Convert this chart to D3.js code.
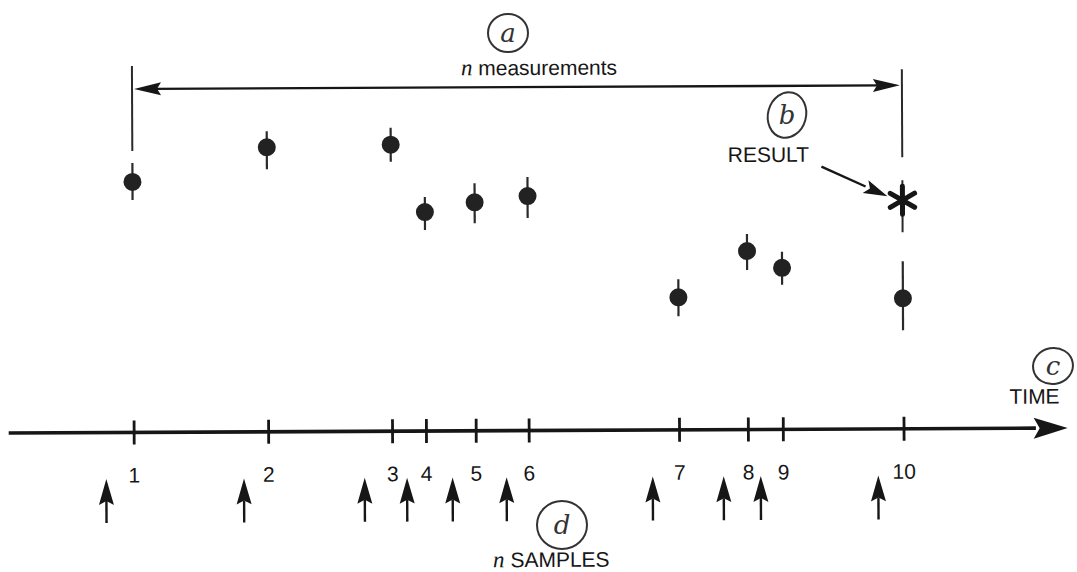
<!DOCTYPE html>
<html>
<head>
<meta charset="utf-8">
<script src="https://cdn.jsdelivr.net/npm/d3@7"></script>
<style>
  html, body { margin: 0; padding: 0; background: #ffffff; }
  svg { display: block; }
</style>
</head>
<body>
<svg id="chart" width="1077" height="572"></svg>
<script>
// Measurement instants along the time axis and their labels
const measureLabels = ["1", "2", "3", "4", "5", "6", "7", "8", "9", "10"];
const measureTimes  = [11.8, 24.5, 36.2, 39.4, 44.1, 49.1, 63.3, 69.8, 73.1, 84.5];
// Measured values with the upper / lower extent of each error bar
const measureValues = [22.0, 25.4, 25.6, 18.85, 19.8, 20.4, 10.2, 14.8, 13.1, 10.0];
const spreadUp      = [1.9, 1.6, 1.7, 1.5, 1.9, 1.9, 1.8, 1.7, 1.6, 3.7];
const spreadDown    = [1.8, 2.2, 1.7, 1.8, 2.1, 2.2, 1.9, 1.9, 1.7, 3.2];
// Sampling instants (arrows under the axis)
const sampleTimes   = [9.2, 22.2, 33.6, 37.6, 41.9, 47.0, 60.8, 67.5, 71.0, 82.1];
// Result produced after the last measurement
const resultValue = 19.8, resultUp = 2.0, resultDown = 3.2;

const ink = "#161616";
const pen = "#2a2a2a";
const sans = "'Liberation Sans', Arial, Helvetica, sans-serif";
const serif = "'Liberation Serif', 'Times New Roman', serif";
const fs = "21px";

const svg = d3.select("#chart");

const x = d3.scaleLinear().domain([0, 100]).range([8, 1067]);
const y = d3.scaleLinear().domain([0, 30]).range([400, 100]);
const axisY = 430.5;

// whole sheet sits very slightly askew
const g = svg.append("g").attr("transform", "rotate(-0.27, 540, 286)");

// ---- time axis with crossing ticks ----
g.append("line")
  .attr("x1", x(0)).attr("x2", x(97))
  .attr("y1", axisY).attr("y2", axisY)
  .attr("stroke", ink).attr("stroke-width", 3.6);
g.append("path")
  .attr("d", `M${x(100)},${axisY} L${x(100) - 34},${axisY - 10.5} L${x(100) - 28},${axisY} L${x(100) - 34},${axisY + 10.5} Z`)
  .attr("fill", ink);

const axis = d3.axisBottom(x)
  .tickValues(measureTimes)
  .tickFormat((d, i) => measureLabels[i])
  .tickSize(12)
  .tickPadding(0);
const axisG = g.append("g").attr("transform", `translate(0,${axisY})`).call(axis);
axisG.select(".domain").remove();
axisG.selectAll(".tick line")
  .attr("y1", -12).attr("y2", 12)
  .attr("stroke", ink).attr("stroke-width", 2.8);
axisG.selectAll(".tick text")
  .attr("y", 50).attr("dy", null)
  .attr("fill", ink)
  .style("font-family", sans).style("font-size", fs);

g.append("text")
  .attr("x", 1034).attr("y", 406)
  .attr("text-anchor", "middle")
  .attr("fill", ink)
  .style("font-family", sans).style("font-size", fs)
  .text("TIME");

// ---- measurements: dots with error bars ----
const meas = measureTimes.map((t, i) => ({ t, v: measureValues[i], up: spreadUp[i], dn: spreadDown[i] }));
g.selectAll("line.err").data(meas).join("line")
  .attr("class", "err")
  .attr("x1", d => x(d.t)).attr("x2", d => x(d.t))
  .attr("y1", d => y(d.v + d.up)).attr("y2", d => y(d.v - d.dn))
  .attr("stroke", pen).attr("stroke-width", 2.2);
g.selectAll("circle.pt").data(meas).join("circle")
  .attr("class", "pt")
  .attr("cx", d => x(d.t)).attr("cy", d => y(d.v))
  .attr("r", 9)
  .attr("fill", "#222222");

// ---- result asterisk ----
const tLast = measureTimes[measureTimes.length - 1];
g.append("line")
  .attr("x1", x(tLast)).attr("x2", x(tLast))
  .attr("y1", y(resultValue + resultUp)).attr("y2", y(resultValue - resultDown))
  .attr("stroke", pen).attr("stroke-width", 2);
g.append("path")
  .attr("transform", `translate(${x(tLast)},${y(resultValue)})`)
  .attr("d", d3.symbol(d3.symbolAsterisk, 560)())
  .attr("fill", "none").attr("stroke", ink)
  .attr("stroke-width", 5).attr("stroke-linecap", "round");

// label and pointer
g.append("text")
  .attr("x", 769).attr("y", 163)
  .attr("text-anchor", "middle")
  .attr("fill", ink)
  .style("font-family", sans).style("font-size", fs)
  .text("RESULT");
{
  const x0 = 822, y0 = 168, x1 = x(tLast) - 15, y1 = y(resultValue) - 4;
  const ang = Math.atan2(y1 - y0, x1 - x0);
  const L = 24, hw = 7;
  const bx = x1 - L * Math.cos(ang), by = y1 - L * Math.sin(ang);
  const nx = -Math.sin(ang), ny = Math.cos(ang);
  g.append("line").attr("x1", x0).attr("y1", y0).attr("x2", bx).attr("y2", by)
    .attr("stroke", ink).attr("stroke-width", 2.4);
  g.append("path")
    .attr("d", `M${x1},${y1} L${bx + nx * hw},${by + ny * hw} L${bx + L * 0.2 * Math.cos(ang)},${by + L * 0.2 * Math.sin(ang)} L${bx - nx * hw},${by - ny * hw} Z`)
    .attr("fill", ink);
}

// ---- span of n measurements ----
const tFirst = measureTimes[0];
const spanY = 87;
g.append("line")
  .attr("x1", x(tFirst)).attr("x2", x(tFirst))
  .attr("y1", 64).attr("y2", 149)
  .attr("stroke", pen).attr("stroke-width", 2);
g.append("line")
  .attr("x1", x(tLast)).attr("x2", x(tLast))
  .attr("y1", 71).attr("y2", 159)
  .attr("stroke", pen).attr("stroke-width", 2);
g.append("line")
  .attr("x1", x(tFirst) + 20).attr("x2", x(tLast) - 20)
  .attr("y1", spanY).attr("y2", spanY)
  .attr("stroke", ink).attr("stroke-width", 2.4);
[[x(tFirst) + 2, 1], [x(tLast) - 2, -1]].forEach(([tip, dir]) => {
  g.append("path")
    .attr("d", `M${tip},${spanY} L${tip + dir * 27},${spanY - 6.5} L${tip + dir * 23},${spanY} L${tip + dir * 27},${spanY + 6.5} Z`)
    .attr("fill", ink);
});
const mt = g.append("text")
  .attr("x", 540).attr("y", 75)
  .attr("text-anchor", "middle")
  .attr("fill", ink)
  .style("font-family", sans).style("font-size", fs);
mt.append("tspan").style("font-family", serif).style("font-style", "italic").style("font-size", "23px").text("n");
mt.append("tspan").text(" measurements");

// ---- sampling arrows ----
const arrowTop = 477, arrowBase = 503, arrowTail = 521;
g.selectAll("line.smp").data(sampleTimes).join("line")
  .attr("class", "smp")
  .attr("x1", d => x(d)).attr("x2", d => x(d))
  .attr("y1", arrowBase - 4).attr("y2", arrowTail)
  .attr("stroke", ink).attr("stroke-width", 2.4);
g.selectAll("path.smp").data(sampleTimes).join("path")
  .attr("class", "smp")
  .attr("d", d => `M${x(d)},${arrowTop} L${x(d) + 7.5},${arrowBase} L${x(d)},${arrowBase - 4} L${x(d) - 7.5},${arrowBase} Z`)
  .attr("fill", ink);

const st = g.append("text")
  .attr("x", 550).attr("y", 567)
  .attr("text-anchor", "middle")
  .attr("fill", ink)
  .style("font-family", sans).style("font-size", fs);
st.append("tspan").style("font-family", serif).style("font-style", "italic").style("font-size", "23px").text("n");
st.append("tspan").text(" SAMPLES");

// ---- circled annotation letters ----
const marks = [
  { letter: "a", cx: 508, cy: 33, rx: 20, ry: 19, rot: 0 },
  { letter: "b", cx: 787, cy: 115, rx: 19, ry: 23, rot: 15 },
  { letter: "c", cx: 1053, cy: 366, rx: 20, ry: 18, rot: -10 },
  { letter: "d", cx: 562, cy: 525, rx: 25, ry: 24, rot: 0 }
];
const mg = svg.selectAll("g.mark").data(marks).join("g")
  .attr("class", "mark")
  .attr("transform", d => `translate(${d.cx},${d.cy})`);
mg.append("ellipse")
  .attr("rx", d => d.rx).attr("ry", d => d.ry)
  .attr("transform", d => `rotate(${d.rot})`)
  .attr("fill", "none").attr("stroke", "#333333").attr("stroke-width", 2);
mg.append("text")
  .attr("text-anchor", "middle").attr("dy", "0.33em")
  .attr("fill", "#333333")
  .style("font-family", "'DejaVu Serif', serif").style("font-style", "italic")
  .style("font-size", "26px")
  .text(d => d.letter);
</script>
</body>
</html>
